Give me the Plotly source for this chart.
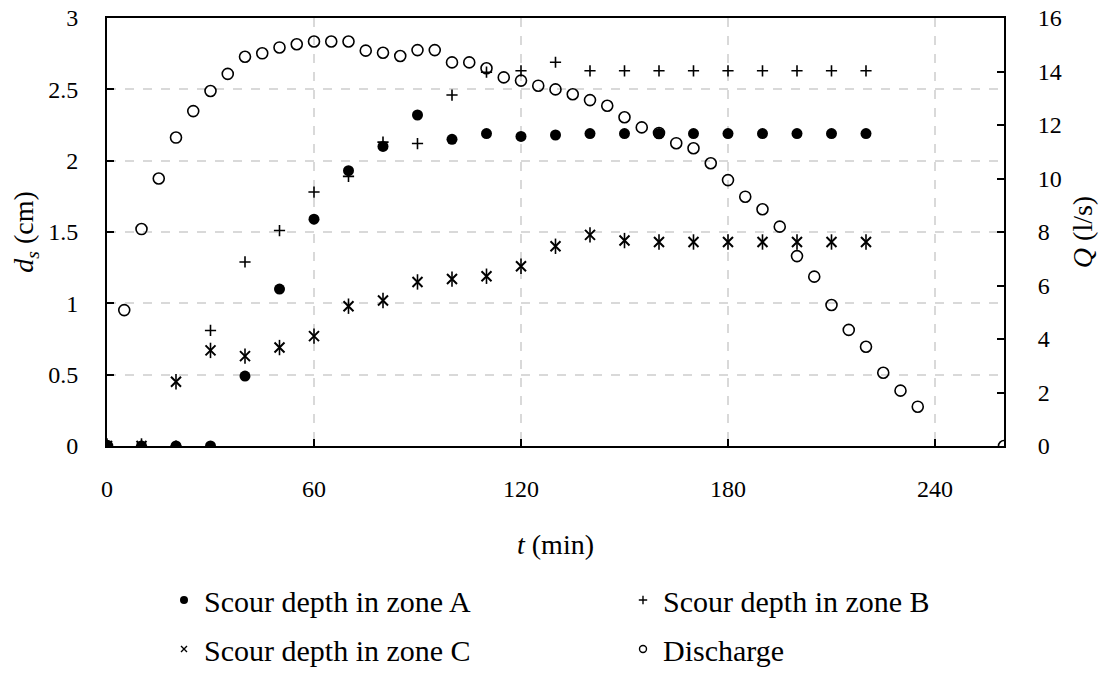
import plotly.graph_objects as go

# Elapsed time (min) for the scour-depth readings
t_scour = [0, 10, 20, 30, 40, 50, 60, 70, 80, 90, 100, 110, 120, 130, 140,
           150, 160, 170, 180, 190, 200, 210, 220]
# Scour depth d_s (cm) in each zone
zone_a = [0, 0, 0, 0, 0.49, 1.10, 1.59, 1.93, 2.10, 2.32, 2.15, 2.19, 2.17, 2.18,
          2.19, 2.19, 2.19, 2.19, 2.19, 2.19, 2.19, 2.19, 2.19]
zone_b = [0, 0, 0, 0.81, 1.29, 1.51, 1.78, 1.89, 2.13, 2.12, 2.46, 2.62, 2.63, 2.69,
          2.63, 2.63, 2.63, 2.63, 2.63, 2.63, 2.63, 2.63, 2.63]
zone_c = [0, 0, 0.45, 0.67, 0.63, 0.69, 0.77, 0.98, 1.02, 1.15, 1.17, 1.19, 1.26, 1.40,
          1.48, 1.44, 1.43, 1.43, 1.43, 1.43, 1.43, 1.43, 1.43]

# Hydrograph: time (min) and discharge Q (l/s)
t_flow = [0, 5, 10, 15, 20, 25, 30, 35, 40, 45, 50, 55, 60, 65, 70, 75, 80, 85, 90, 95,
          100, 105, 110, 115, 120, 125, 130, 135, 140, 145, 150, 155, 160, 165, 170,
          175, 180, 185, 190, 195, 200, 205, 210, 215, 220, 225, 230, 235, 260]
discharge = [0, 5.08, 8.11, 10.0, 11.53, 12.52, 13.27, 13.91, 14.55, 14.68, 14.9, 15.02,
             15.12, 15.12, 15.12, 14.78, 14.7, 14.58, 14.8, 14.8, 14.34, 14.34, 14.12,
             13.78, 13.66, 13.47, 13.33, 13.15, 12.93, 12.72, 12.29, 11.91, 11.7, 11.32,
             11.13, 10.57, 9.94, 9.32, 8.85, 8.2, 7.10, 6.33, 5.27, 4.34, 3.71, 2.74,
             2.07, 1.47, 0]

x_ticks = [0, 60, 120, 180, 240]
left_ticks = [0, 0.5, 1, 1.5, 2, 2.5, 3]
left_labels = ["0", "0.5", "1", "1.5", "2", "2.5", "3"]
right_ticks = [0, 2, 4, 6, 8, 10, 12, 14, 16]

FONT = "Liberation Serif, Times New Roman, serif"
BLACK = "#000000"

fig = go.Figure()

# Data markers (legend entries are drawn by the small-symbol traces below)
fig.add_trace(go.Scatter(
    x=t_flow, y=discharge, mode="markers", name="Discharge", yaxis="y2",
    marker=dict(symbol="circle-open", size=11, color=BLACK, line=dict(width=1.6)),
    showlegend=False,
))
fig.add_trace(go.Scatter(
    x=t_scour, y=zone_c, mode="markers", name="Scour depth in zone C",
    marker=dict(symbol="x-thin", size=10, color=BLACK, line=dict(width=2, color=BLACK)),
    showlegend=False,
))
fig.add_trace(go.Scatter(
    x=t_scour, y=zone_c, mode="markers", name="Scour depth in zone C",
    marker=dict(symbol="line-ns", size=11, color=BLACK, line=dict(width=1.6, color=BLACK)),
    showlegend=False,
))
fig.add_trace(go.Scatter(
    x=t_scour, y=zone_b, mode="markers", name="Scour depth in zone B",
    marker=dict(symbol="cross-thin", size=8, color=BLACK, line=dict(width=1.6, color=BLACK)),
    showlegend=False,
))
fig.add_trace(go.Scatter(
    x=t_scour, y=zone_a, mode="markers", name="Scour depth in zone A",
    marker=dict(symbol="circle", size=11, color=BLACK),
    showlegend=False,
))

# Legend keys, one legend box per entry to get the 2 x 2 layout
legend_keys = [
    ("Scour depth in zone A", dict(symbol="circle", size=8, color=BLACK), "legend"),
    ("Scour depth in zone B", dict(symbol="cross-thin", size=6, color=BLACK,
                                   line=dict(width=1.4, color=BLACK)), "legend2"),
    ("Scour depth in zone C", dict(symbol="x-thin", size=6, color=BLACK,
                                   line=dict(width=1.4, color=BLACK)), "legend3"),
    ("Discharge", dict(symbol="circle-open", size=7, color=BLACK,
                       line=dict(width=1.4, color=BLACK)), "legend4"),
]
for label, mk, lg in legend_keys:
    fig.add_trace(go.Scatter(x=[None], y=[None], mode="markers", name=label,
                             marker=mk, legend=lg, showlegend=True))

grid = dict(showgrid=True, gridcolor="#d9d9d9", griddash="dash", gridwidth=1.5)
tick_font = dict(family=FONT, size=24, color=BLACK)
title_font = dict(family=FONT, size=28, color=BLACK)
legend_font = dict(family=FONT, size=30, color=BLACK)


def legend_box(xc, yc):
    return dict(orientation="h", x=xc, y=yc, xref="container", yref="container",
                xanchor="left", yanchor="middle", font=legend_font,
                itemsizing="trace", bgcolor="rgba(0,0,0,0)")


fig.update_layout(
    width=1108, height=679,
    margin=dict(l=107, r=104, t=18, b=233, autoexpand=False),
    paper_bgcolor="white", plot_bgcolor="white",
    font=dict(family=FONT, size=24, color=BLACK),
    xaxis=dict(
        range=[0, 260], tickvals=x_ticks, ticks="inside", ticklen=7, tickwidth=2,
        tickcolor=BLACK, showline=True, linecolor=BLACK, linewidth=2, mirror=True,
        zeroline=False, ticklabelstandoff=20, tickfont=tick_font, automargin=False,
        title=dict(text="<i>t</i> (min)", font=title_font, standoff=34),
        **grid,
    ),
    yaxis=dict(
        range=[0, 3], tickvals=left_ticks, ticktext=left_labels, ticks="inside",
        ticklen=7, tickwidth=2, tickcolor=BLACK, showline=True, linecolor=BLACK,
        linewidth=2, zeroline=False, ticklabelstandoff=22, tickfont=tick_font,
        automargin=False,
        title=dict(text="<i>d<sub>s</sub></i> (cm)", font=title_font, standoff=6),
        **grid,
    ),
    yaxis2=dict(
        range=[0, 16], tickvals=right_ticks, overlaying="y", side="right",
        ticks="inside", ticklen=7, tickwidth=2, tickcolor=BLACK, showline=True,
        linecolor=BLACK, linewidth=2, showgrid=False, zeroline=False,
        ticklabelstandoff=27, tickfont=tick_font, automargin=False,
        title=dict(text="<i>Q</i> (l/s)", font=title_font, standoff=12),
    ),
    legend=legend_box(164 / 1108, 1 - 600 / 679),
    legend2=legend_box(623 / 1108, 1 - 600 / 679),
    legend3=legend_box(164 / 1108, 1 - 649 / 679),
    legend4=legend_box(623 / 1108, 1 - 649 / 679),
)

fig.write_html("out.html")
